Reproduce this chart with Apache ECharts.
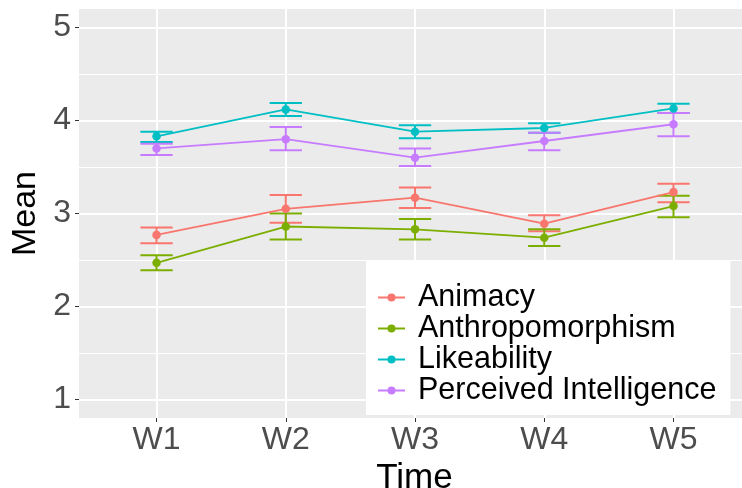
<!DOCTYPE html>
<html>
<head>
<meta charset="utf-8">
<script src="https://cdn.jsdelivr.net/npm/echarts@6/dist/echarts.min.js"></script>
<style>
  html, body { margin: 0; padding: 0; background: #fff; }
  #chart { width: 742px; height: 488px; }
</style>
</head>
<body>
<div id="chart"></div>
<script>
// categories and tick labels
var categories = ['W1', 'W2', 'W3', 'W4', 'W5'];
var yTicks = [1, 2, 3, 4, 5];
var names = ['Animacy', 'Anthropomorphism', 'Likeability', 'Perceived Intelligence'];
var colors = ['#F8766D', '#7CAE00', '#00BFC4', '#C77CFF'];

// means and error bar ends
var animacyMean = [2.77, 3.05, 3.17, 2.89, 3.23];
var animacyLow  = [2.68, 2.90, 3.06, 2.81, 3.12];
var animacyHigh = [2.85, 3.20, 3.28, 2.98, 3.32];

var anthroMean = [2.47, 2.86, 2.83, 2.74, 3.08];
var anthroLow  = [2.39, 2.72, 2.72, 2.65, 2.96];
var anthroHigh = [2.55, 3.00, 2.94, 2.83, 3.19];

var likeMean = [3.83, 4.12, 3.88, 3.92, 4.13];
var likeLow  = [3.77, 4.05, 3.81, 3.87, 4.08];
var likeHigh = [3.88, 4.19, 3.95, 3.97, 4.18];

var piMean = [3.70, 3.80, 3.60, 3.78, 3.96];
var piLow  = [3.63, 3.68, 3.51, 3.68, 3.83];
var piHigh = [3.75, 3.93, 3.70, 3.87, 4.08];

var means = [animacyMean, anthroMean, likeMean, piMean];
var lows = [animacyLow, anthroLow, likeLow, piLow];
var highs = [animacyHigh, anthroHigh, likeHigh, piHigh];

var capWidth = 0.25; // errorbar width in x units

function errorBarItem(params, api) {
    var x = api.value(0);
    var lo = api.coord([x, api.value(1)]);
    var hi = api.coord([x, api.value(2)]);
    var half = api.size([capWidth, 0])[0] / 2;
    var style = { stroke: api.visual('color'), lineWidth: 2 };
    return {
        type: 'group',
        children: [
            { type: 'line', shape: { x1: lo[0], y1: hi[1], x2: lo[0], y2: lo[1] }, style: style },
            { type: 'line', shape: { x1: lo[0] - half, y1: hi[1], x2: lo[0] + half, y2: hi[1] }, style: style },
            { type: 'line', shape: { x1: lo[0] - half, y1: lo[1], x2: lo[0] + half, y2: lo[1] }, style: style }
        ]
    };
}

var series = [];
// lines + points first so the legend takes its icon from them
for (var i = 0; i < names.length; i++) {
    series.push({
        name: names[i],
        type: 'line',
        z: 3,
        data: means[i].map(function (v, k) { return [k + 1, v]; }),
        symbol: 'circle',
        symbolSize: 8.5,
        itemStyle: { color: colors[i] },
        lineStyle: { color: colors[i], width: 1.8 },
        emphasis: { disabled: true }
    });
}
for (var j = 0; j < names.length; j++) {
    series.push({
        name: names[j],
        type: 'custom',
        z: 2,
        renderItem: errorBarItem,
        itemStyle: { color: colors[j] },
        encode: { x: 0, y: [1, 2] },
        data: lows[j].map(function (v, k) { return [k + 1, v, highs[j][k]]; })
    });
}

var option = {
    animation: false,
    backgroundColor: '#fff',
    textStyle: { fontFamily: 'Liberation Sans, Arial, sans-serif' },
    grid: {
        left: 79,
        right: 0,
        top: 9,
        bottom: 70,
        outerBoundsMode: 'none',
        containLabel: false,
        show: true,
        backgroundColor: '#EBEBEB',
        borderWidth: 0
    },
    legend: {
        orient: 'vertical',
        left: 366,
        top: 261,
        backgroundColor: '#fff',
        padding: [21, 14, 9, 11],
        itemGap: 0,
        itemWidth: 27,
        itemHeight: 10,
        textStyle: { fontSize: 30.5, lineHeight: 30, color: '#000', padding: [0, 0, 0, 8] },
        data: names
    },
    xAxis: {
        type: 'value',
        min: 0.4,
        max: 5.53,
        minInterval: 1,
        maxInterval: 1,
        splitNumber: 5,
        name: 'Time',
        nameLocation: 'middle',
        nameGap: 36,
        nameTextStyle: { fontSize: 35, color: '#000', padding: [0, 0, 0, 8] },
        axisLine: { show: false },
        axisTick: { show: true, length: 4, lineStyle: { color: '#333', width: 1 }, customValues: [1, 2, 3, 4, 5] },
        axisLabel: {
            fontSize: 32,
            color: '#4D4D4D',
            margin: 6,
            customValues: [1, 2, 3, 4, 5],
            formatter: function (v) {
                return Number.isInteger(v) && v >= 1 && v <= 5 ? categories[v - 1] : '';
            }
        },
        splitLine: { show: true, lineStyle: { color: '#fff', width: 2 } }
    },
    yAxis: {
        type: 'value',
        min: 0.8,
        max: 5.2,
        minInterval: 1,
        maxInterval: 1,
        splitNumber: 4,
        name: 'Mean',
        nameLocation: 'middle',
        nameGap: 25,
        nameTextStyle: { fontSize: 34, color: '#000' },
        axisLine: { show: false },
        axisTick: { show: true, length: 4, lineStyle: { color: '#333', width: 1 }, customValues: yTicks },
        axisLabel: {
            fontSize: 32,
            color: '#4D4D4D',
            margin: 8,
            customValues: yTicks,
            formatter: function (v) { return Number.isInteger(v) ? String(v) : ''; }
        },
        splitLine: { show: true, lineStyle: { color: '#fff', width: 2 } },
        minorTick: { show: false, splitNumber: 2 },
        minorSplitLine: { show: true, lineStyle: { color: '#fff', width: 1 } }
    },
    series: series
};

var myChart = echarts.init(document.getElementById('chart'));
myChart.setOption(option);
</script>
</body>
</html>
